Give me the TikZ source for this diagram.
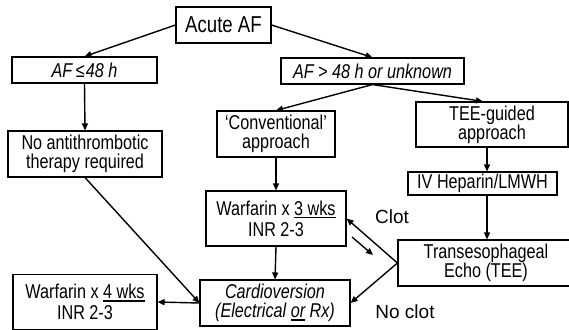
\documentclass[tikz,border=0pt]{standalone}
\usepackage{fontspec}
\setmainfont{Liberation Sans}
\newfontfamily\nfont[FakeStretch=0.81]{Liberation Sans}
\usetikzlibrary{arrows.meta}
\newcommand\myul[1]{\setbox0\hbox{#1}\rlap{\rule[-3pt]{\wd0}{1.5pt}}\box0\relax}
\begin{document}
\begin{tikzpicture}[x=1pt,y=-1pt,
 bx/.style={draw, line width=1.1pt, inner sep=0pt, align=center, font=\nfont\fontsize{20}{19}\selectfont},
 itbx/.style={bx, font=\nfont\itshape\fontsize{20}{19}\selectfont},
 wbx/.style={bx, font=\nfont\fontsize{20}{21}\selectfont},
 arr/.style={line width=1.4pt, -{Triangle[length=7pt,width=6pt]}},
 lbl/.style={font=\fontsize{19}{22}\selectfont, inner sep=0pt}]
\useasboundingbox (0,0) rectangle (569,329);
\clip (0,0) rectangle (569,329);
\fill[white] (0,0) rectangle (569,329);
\node[bx, minimum width=95pt, minimum height=36pt, font=\nfont\fontsize{23}{24}\selectfont] (acute) at (223.5,25) {Acute AF};
\node[itbx, minimum width=145pt, minimum height=26pt] (le) at (84.5,70) {AF \kern-1pt≤\kern1pt48 h};
\node[itbx, minimum width=183pt, minimum height=26pt] (gt) at (372.5,71) {AF > 48 h or unknown};
\node[bx, minimum width=154pt, minimum height=46pt] (noanti) at (85,154) {No antithrombotic\\therapy required};
\node[bx, minimum width=118pt, minimum height=46pt] (conv) at (276,134) {‘Conventional’\\approach};
\node[bx, minimum width=152pt, minimum height=45pt] (teeg) at (492,124.5) {TEE-guided\\approach};
\node[wbx, minimum width=140pt, minimum height=55pt] (war3) at (276,218.5) {Warfarin x \myul{3 wks}\\INR 2-3};
\node[bx, minimum width=149pt, minimum height=23pt] (hep) at (482.5,183.5) {IV Heparin/LMWH};
\node[bx, minimum width=176pt, minimum height=46pt] (tee) at (486,263) {Transesophageal\\Echo (TEE)};
\node[itbx, minimum width=150pt, minimum height=46pt] (cardio) at (275,303) {Cardioversion\\(Electrical \myul{or} Rx)};
\node[wbx, minimum width=144pt, minimum height=55pt] (war4) at (85,302) {Warfarin x \myul{4 wks}\\INR 2-3};
\node[lbl] (clot) at (392,217) {Clot};
\node[lbl] (noclot) at (405,312) {No clot};
\draw[arr] (acute.west) -- (le.north);
\draw[arr] (acute.east) -- (gt.north);
\draw[arr] (le.south) -- (noanti.north);
\draw[arr] (gt.south) -- (conv.north);
\draw[arr] (gt.south) -- ([xshift=-9pt]teeg.north);
\draw[arr] ([xshift=-5pt]teeg.south) -- ([xshift=-5pt]teeg.south |- hep.north);
\draw[arr] ([xshift=4.5pt]hep.south) -- ([xshift=4.5pt]hep.south |- tee.north);
\draw[arr] (conv.south) -- (war3.north);
\draw[arr] (war3.south) -- (cardio.north);
\draw[arr] (noanti.south) -- (cardio.west);
\draw[arr] (cardio.west) -- (war4.east);
\draw[arr] (tee.west) -- (war3.east);
\draw[arr] (tee.west) -- (cardio.east);
\coordinate (s1) at (352,237);
\coordinate (s2) at (373,255);
\draw[arr] (s1) -- (s2);
\end{tikzpicture}
\end{document}
